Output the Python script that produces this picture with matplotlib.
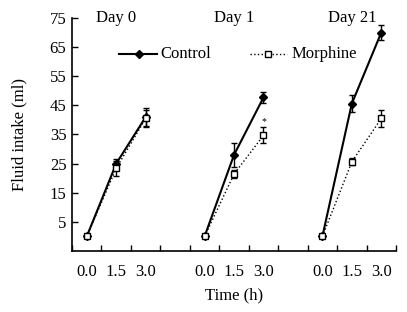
import matplotlib.pyplot as plt
import numpy as np

plt.rcParams['font.family'] = ['Liberation Serif', 'DejaVu Serif']

days = ["Day 0", "Day 1", "Day 21"]
time_labels = ["0.0", "1.5", "3.0"]

# fluid intake (ml) at 0.0, 1.5, 3.0 h for each day
control = [[0, 25, 41], [0, 28, 47.7], [0, 45.6, 70]]
control_err = [[0, 1.5, 3], [0, 4, 1.8], [0, 2.8, 2.6]]
morphine = [[0, 23.4, 40.5], [0, 21.4, 34.7], [0, 25.6, 40.5]]
morphine_err = [[0, 2.5, 3], [0, 1.5, 2.7], [0, 1.2, 3]]

fs = 12

fig = plt.figure(figsize=(4.07, 3.12), dpi=100)
ax = fig.add_axes([0.177, 0.1955, 0.796, 0.747])

for i in range(3):
    xs = np.arange(3) + 4 * i + 0.5
    ax.errorbar(xs, morphine[i], yerr=morphine_err[i], color='black', ls=':', lw=1,
                marker='s', ms=5, mfc='white', mec='black', mew=1,
                capsize=2.5, elinewidth=1, zorder=3)
    ax.errorbar(xs, control[i], yerr=control_err[i], color='black', ls='-', lw=1.5,
                marker='D', ms=4.5, mfc='black', mec='black',
                capsize=2.5, elinewidth=1, zorder=2)
    ax.text(xs[1], 75, days[i], ha='center', va='center', fontsize=fs)

# significance mark
ax.text(6.5, 39.5, "*", ha='center', va='center', fontsize=7)

# legend drawn inside the axes
ax.plot([1.6, 2.9], [62.5, 62.5], color='black', lw=1.5)
ax.plot([2.27], [62.5], marker='D', ms=4.5, color='black')
ax.text(3.0, 62.5, "Control", ha='left', va='center', fontsize=fs)
ax.plot([6.05, 7.3], [62.5, 62.5], color='black', lw=1, ls=':')
ax.plot([6.67], [62.5], marker='s', ms=5, mfc='white', mec='black', mew=1)
ax.text(7.45, 62.5, "Morphine", ha='left', va='center', fontsize=fs)

ax.set_xlim(0, 11)
ax.set_ylim(-5, 75)
ax.set_yticks([5, 15, 25, 35, 45, 55, 65, 75])
ax.set_xticks(np.arange(0, 12))
ax.set_xticklabels([])
ax.set_xticks([4 * i + j + 0.5 for i in range(3) for j in range(3)], minor=True)
ax.set_xticklabels(time_labels * 3, minor=True)
ax.tick_params(axis='x', which='minor', length=0, pad=9, labelsize=fs)
ax.tick_params(axis='x', which='major', direction='in', length=4, width=1)
ax.tick_params(axis='y', direction='in', length=4, width=1, labelsize=fs, pad=4)

ax.spines['top'].set_visible(False)
ax.spines['right'].set_visible(False)
ax.spines['left'].set_linewidth(1.2)
ax.spines['bottom'].set_linewidth(1.2)

ax.set_xlabel("Time (h)", fontsize=fs, labelpad=6)
ax.set_ylabel("Fluid intake (ml)", fontsize=fs, labelpad=16)

fig.savefig("out.png", dpi=100)
